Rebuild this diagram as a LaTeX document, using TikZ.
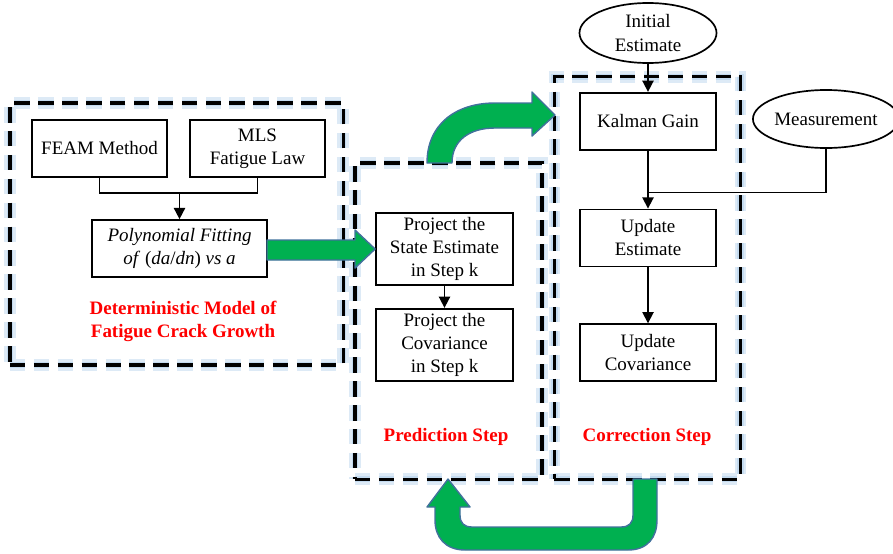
\documentclass[tikz,border=0pt]{standalone}
\usepackage{fontspec}
\setmainfont{Liberation Serif}
\usetikzlibrary{arrows.meta,positioning,shapes.geometric}
\definecolor{ArrowGreen}{RGB}{0,176,80}
\definecolor{ArrowEdge}{RGB}{65,113,156}
\definecolor{GlowBlue}{RGB}{157,195,230}
\definecolor{LabelRed}{RGB}{255,0,0}

\begin{document}
\begin{tikzpicture}[x=0.025cm, y=-0.025cm, >={Triangle[length=8pt,width=8pt]},
    font=\fontsize{13.5}{16.4}\selectfont,
    procbox/.style={draw, line width=1.2pt, align=center, inner sep=2pt},
    roundbox/.style={draw, ellipse, line width=1.2pt, align=center, inner sep=0pt},
    stepframe/.style={draw, dash pattern=on 11pt off 6pt, line width=2.2pt, inner sep=0pt,
        preaction={draw=GlowBlue!35, line width=8pt},
        preaction={draw=GlowBlue!60, line width=4.5pt}},
    flow/.style={->, line width=1.2pt},
    blockarrow/.style={fill=ArrowGreen, draw=ArrowEdge, line width=1pt, line join=round},
    steplabel/.style={text=LabelRed, font=\fontsize{13.5}{16.4}\selectfont\bfseries, align=center}]
    \useasboundingbox (0,0) rectangle (893,553);

    % dashed frames
    \node [stepframe, minimum width=8.325cm, minimum height=6.55cm] (detframe) at (176.5,234) {};
    \node [stepframe, minimum width=4.675cm, minimum height=7.9cm] (predframe) at (448.5,321) {};
    \node [stepframe, minimum width=4.65cm, minimum height=10.05cm] (corrframe) at (647.5,278) {};

    % deterministic model
    \node [procbox, minimum width=3.375cm, minimum height=1.425cm] (feam) at (99.5,148.5) {FEAM Method};
    \node [procbox, minimum width=3.375cm, minimum height=1.425cm] (mls) at (257.5,148.5) {MLS\\Fatigue Law};
    \node [procbox, minimum width=4.375cm, minimum height=1.425cm] (poly) at (179.5,248.5) {\textit{Polynomial Fitting}\\\textit{of} (\textit{da}/\textit{dn}) \textit{vs a}};
    \node [steplabel] (detlabel) at (183,321) {Deterministic Model of\\Fatigue Crack Growth};

    % prediction
    \node [procbox, minimum width=3.425cm, minimum height=1.8cm] (projstate) at (444.5,249) {Project the\\State Estimate\\in Step k};
    \node [procbox, minimum width=3.425cm, minimum height=1.8cm, below=0.55cm of projstate] (projcov) {Project the\\Covariance\\in Step k};
    \node [steplabel] (predlabel) at (446,437) {Prediction Step};

    % correction
    \node [roundbox, minimum width=3.425cm, minimum height=1.5cm] (initial) at (648,33) {Initial\\Estimate};
    \node [procbox, minimum width=3.4cm, minimum height=1.425cm, below=0.7cm of initial] (kalman) {Kalman Gain};
    \node [procbox, minimum width=3.4cm, minimum height=1.425cm, below=1.45cm of kalman] (updest) {Update\\Estimate};
    \node [procbox, minimum width=3.4cm, minimum height=1.425cm, below=1.4cm of updest] (updcov) {Update\\Covariance};
    \node [roundbox, minimum width=3.3cm, minimum height=1.45cm] (meas) at (826,119) {Measurement};
    \node [steplabel] (corrlabel) at (647,437) {Correction Step};

    % connectors
    \path (poly.north) ++(0,-26) coordinate (merge);
    \draw [line width=1.2pt] (feam.south) |- (merge) -| (mls.south);
    \draw [flow] (merge) -- (poly.north);
    \draw [flow] (projstate) -- (projcov);
    \draw [flow] (initial) -- (kalman);
    \draw [flow] (kalman) -- (updest);
    \path (kalman.south) ++(0,42) coordinate (meet);
    \draw [line width=1.2pt] (meas.south) |- (meet);
    \draw [flow] (updest) -- (updcov);

    % green block arrows
    \draw [blockarrow] (267,240) -- (355,240) -- (355,230) -- (projstate.west) -- (355,268) -- (355,260) -- (267,260) -- cycle;
    \draw [blockarrow] (427,163) .. controls (427,125) and (455,103) .. (495,103) -- (532,103) -- (532,92)
        -- (555,115) -- (532,136) -- (532,128) -- (495,128) .. controls (470,128) and (452,140) .. (452,163) -- cycle;
    \draw [blockarrow] (657,479) -- (657,520) .. controls (657,537) and (648,550) .. (628,550) -- (465,550)
        .. controls (445,550) and (435,537) .. (435,520) -- (435,507) -- (427,507) -- (448,479) -- (470,507)
        -- (460,507) -- (460,515) .. controls (460,523) and (464,527) .. (472,527) -- (621,527)
        .. controls (629,527) and (633,523) .. (633,515) -- (633,479) -- cycle;
\end{tikzpicture}
\end{document}
